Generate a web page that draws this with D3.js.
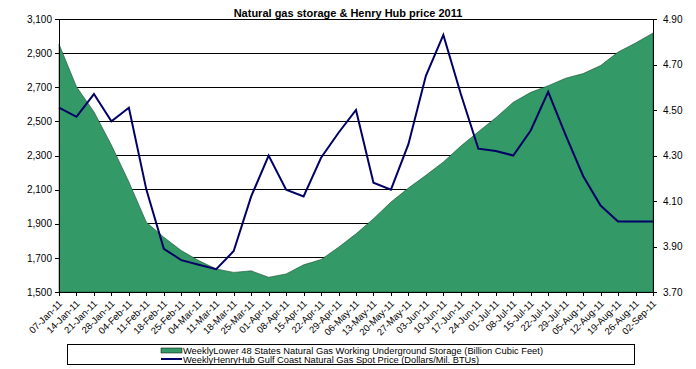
<!DOCTYPE html>
<html>
<head>
<meta charset="utf-8">
<script src="https://cdn.jsdelivr.net/npm/d3@7"></script>
<style>
  html, body { margin: 0; padding: 0; background: #fff; }
  svg { display: block; font-family: Arial, "Liberation Sans", sans-serif; }
</style>
</head>
<body>
<svg id="chart" width="696" height="369"></svg>
<script>
// weekly dates (category labels)
const weeks = [
  '07-Jan-11', '14-Jan-11', '21-Jan-11', '28-Jan-11',
  '04-Feb-11', '11-Feb-11', '18-Feb-11', '25-Feb-11',
  '04-Mar-11', '11-Mar-11', '18-Mar-11', '25-Mar-11',
  '01-Apr-11', '08-Apr-11', '15-Apr-11', '22-Apr-11', '29-Apr-11',
  '06-May-11', '13-May-11', '20-May-11', '27-May-11',
  '03-Jun-11', '10-Jun-11', '17-Jun-11', '24-Jun-11',
  '01-Jul-11', '08-Jul-11', '15-Jul-11', '22-Jul-11', '29-Jul-11',
  '05-Aug-11', '12-Aug-11', '19-Aug-11', '26-Aug-11',
  '02-Sep-11'
];

// working gas in storage (Bcf), left axis
const storage = [
  2953, 2703, 2556, 2361, 2145, 1909, 1821, 1743, 1684, 1635, 1615, 1624,
  1586, 1606, 1659, 1690, 1762, 1841, 1929, 2027, 2109, 2184, 2262, 2355,
  2439, 2521, 2612, 2670, 2709, 2753, 2780, 2827, 2906, 2959, 3018
];

// Henry Hub spot price ($/MMBtu), right axis
const price = [
  4.51, 4.47, 4.57, 4.45, 4.51, 4.15, 3.89, 3.84, 3.82, 3.80, 3.88, 4.12,
  4.30, 4.15, 4.12, 4.29, 4.40, 4.50, 4.18, 4.15, 4.35, 4.65, 4.83, 4.57,
  4.33, 4.32, 4.30, 4.41, 4.58, 4.39, 4.21, 4.08, 4.01, 4.01, 4.01
];

const leftTicks = [1500, 1700, 1900, 2100, 2300, 2500, 2700, 2900, 3100];
const rightTicks = [3.70, 3.90, 4.10, 4.30, 4.50, 4.70, 4.90];

const title = 'Natural gas storage & Henry Hub price 2011';
const storageName = 'WeeklyLower 48 States Natural Gas Working Underground Storage  (Billion Cubic Feet)';
const priceName = 'WeeklyHenryHub Gulf Coast Natural Gas Spot Price (Dollars/Mil. BTUs)';

const margin = { top: 19, right: 43, bottom: 77, left: 59 };
const svg = d3.select('#chart');
const width = +svg.attr('width') - margin.left - margin.right;
const height = +svg.attr('height') - margin.top - margin.bottom;
const g = svg.append('g').attr('transform', `translate(${margin.left},${margin.top})`);

const x = d3.scalePoint().domain(weeks).range([0, width]).padding(0);
const y = d3.scaleLinear().domain([1500, 3100]).range([height, 0]);
const y2 = d3.scaleLinear().domain([3.7, 4.9]).range([height, 0]);

// gridlines
g.append('g')
  .selectAll('line')
  .data(leftTicks.slice(1))
  .enter().append('line')
  .attr('x1', 0).attr('x2', width)
  .attr('y1', d => y(d)).attr('y2', d => y(d))
  .attr('stroke', '#000').attr('stroke-width', 1)
  .attr('shape-rendering', 'crispEdges');

// storage area
const area = d3.area()
  .x((d, i) => x(weeks[i]))
  .y0(y(1500))
  .y1(d => y(d));

g.append('path')
  .datum(storage)
  .attr('d', area)
  .attr('fill', '#339966')
  .attr('stroke', '#1f4d33')
  .attr('stroke-width', 0.6);

// price line
const line = d3.line()
  .x((d, i) => x(weeks[i]))
  .y(d => y2(d));

g.append('path')
  .datum(price)
  .attr('d', line)
  .attr('fill', 'none')
  .attr('stroke', '#000066')
  .attr('stroke-width', 2)
  .attr('stroke-linejoin', 'miter');

// axes
const yAxis = g.append('g')
  .call(d3.axisLeft(y).tickValues(leftTicks).tickFormat(d3.format(',')).tickSize(4).tickSizeOuter(0));
const y2Axis = g.append('g')
  .attr('transform', `translate(${width},0)`)
  .call(d3.axisRight(y2).tickValues(rightTicks).tickFormat(d3.format('.2f')).tickSize(4).tickSizeOuter(0));
const xAxis = g.append('g')
  .attr('transform', `translate(0,${height})`)
  .call(d3.axisBottom(x).tickSize(4).tickSizeOuter(0));

[yAxis, y2Axis, xAxis].forEach(a => {
  a.selectAll('path, line').attr('stroke', '#000').attr('shape-rendering', 'crispEdges');
  a.selectAll('text').attr('fill', '#000').style('font-family', 'Arial, "Liberation Sans", sans-serif');
});
yAxis.selectAll('text').style('font-size', '10px').attr('x', -7);
y2Axis.selectAll('text').style('font-size', '10px').attr('x', 10);

xAxis.selectAll('text')
  .style('font-size', '9.5px')
  .style('text-anchor', 'end')
  .attr('x', 0)
  .attr('y', 0)
  .attr('dy', '0.35em')
  .attr('transform', 'translate(1,10) rotate(-45)');

// title
svg.append('text')
  .attr('x', 348)
  .attr('y', 17)
  .attr('text-anchor', 'middle')
  .style('font-size', '11px')
  .style('font-weight', 'bold')
  .text(title);

// legend
const legend = svg.append('g');
legend.append('rect')
  .attr('x', 67.5).attr('y', 344.5)
  .attr('width', 567).attr('height', 20)
  .attr('fill', '#fff').attr('stroke', '#000').attr('stroke-width', 1);

legend.append('rect')
  .attr('x', 161).attr('y', 348)
  .attr('width', 21).attr('height', 5)
  .attr('fill', '#339966').attr('stroke', '#000').attr('stroke-width', 0.5);
legend.append('line')
  .attr('x1', 161).attr('x2', 182)
  .attr('y1', 359).attr('y2', 359)
  .attr('stroke', '#000066').attr('stroke-width', 2);

legend.append('text')
  .attr('x', 183).attr('y', 353.5)
  .style('font-size', '8.5px')
  .attr('textLength', 360).attr('lengthAdjust', 'spacingAndGlyphs')
  .text(storageName);
legend.append('text')
  .attr('x', 183).attr('y', 362.5)
  .style('font-size', '8.5px')
  .attr('textLength', 296).attr('lengthAdjust', 'spacingAndGlyphs')
  .text(priceName);
</script>
</body>
</html>
